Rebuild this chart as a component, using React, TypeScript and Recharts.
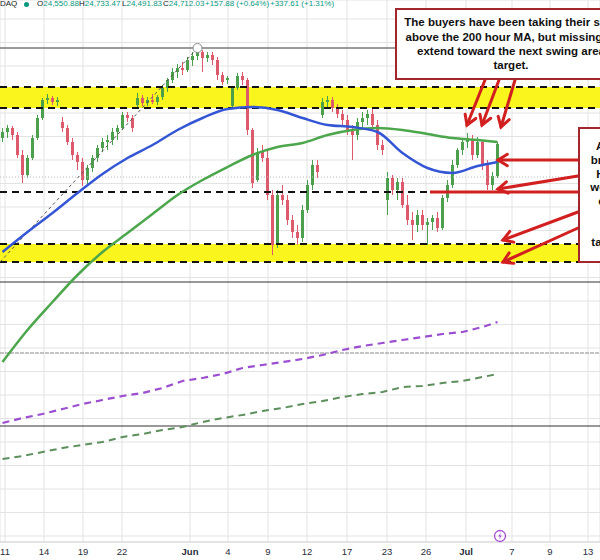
import React from 'react';
import {
  ComposedChart, Bar, Line, XAxis, YAxis, CartesianGrid,
  ReferenceArea, ReferenceLine, ReferenceDot,
} from 'recharts';

// hourly bars, index 0..99 (price in index points)
const opens = [
  24724, 24736, 24744, 24730, 24690, 24650, 24684, 24724, 24764, 24800,
  24804, 24796, 24756, 24744, 24716, 24690, 24676, 24640, 24664, 24684,
  24704, 24716, 24720, 24736, 24744, 24770, 24764, 24790, 24804, 24794,
  24800, 24796, 24806, 24824, 24840, 24856, 24864, 24860, 24880, 24888,
  24896, 24884, 24890, 24880, 24850, 24840, 24788, 24824, 24848, 24840,
  24740, 24640, 24696, 24684, 24610, 24510, 24610, 24600, 24560, 24536,
  24524, 24580, 24630, 24670, 24770, 24796, 24800, 24784, 24772, 24760,
  24740, 24730, 24756, 24764, 24772, 24750, 24710, 24600, 24644, 24620,
  24636, 24590, 24560, 24550, 24570, 24550, 24556, 24564, 24544, 24604,
  24630, 24670, 24700, 24716, 24720, 24690, 24716, 24670, 24630, 24648,
];
const highs = [
  24744, 24750, 24748, 24736, 24700, 24690, 24730, 24770, 24804, 24812,
  24808, 24806, 24766, 24750, 24724, 24696, 24684, 24670, 24690, 24710,
  24724, 24730, 24744, 24750, 24776, 24776, 24770, 24814, 24810, 24806,
  24812, 24810, 24830, 24844, 24864, 24872, 24876, 24886, 24896, 24904,
  24900, 24896, 24896, 24886, 24856, 24848, 24828, 24854, 24856, 24844,
  24744, 24704, 24710, 24700, 24620, 24620, 24630, 24610, 24570, 24550,
  24590, 24640, 24680, 24680, 24804, 24808, 24806, 24792, 24780, 24770,
  24750, 24764, 24776, 24780, 24784, 24760, 24720, 24656, 24650, 24644,
  24644, 24610, 24576, 24580, 24580, 24564, 24570, 24576, 24610, 24640,
  24680, 24704, 24724, 24734, 24730, 24726, 24720, 24680, 24656, 24716,
];
const lows = [
  24716, 24724, 24720, 24684, 24634, 24644, 24680, 24720, 24760, 24792,
  24790, 24788, 24736, 24710, 24680, 24660, 24628, 24632, 24656, 24676,
  24696, 24700, 24710, 24720, 24740, 24756, 24736, 24784, 24788, 24788,
  24792, 24790, 24800, 24816, 24834, 24844, 24850, 24856, 24868, 24880,
  24856, 24876, 24870, 24840, 24830, 24832, 24784, 24820, 24830, 24730,
  24624, 24636, 24676, 24600, 24490, 24504, 24590, 24550, 24524, 24510,
  24516, 24574, 24620, 24644, 24764, 24784, 24776, 24764, 24750, 24730,
  24680, 24720, 24744, 24750, 24740, 24700, 24690, 24570, 24610, 24600,
  24584, 24550, 24520, 24536, 24540, 24510, 24540, 24536, 24540, 24596,
  24624, 24664, 24690, 24704, 24680, 24684, 24660, 24620, 24620, 24644,
];
const closes = [
  24736, 24744, 24730, 24690, 24650, 24684, 24724, 24764, 24800, 24804,
  24796, 24800, 24744, 24716, 24690, 24676, 24640, 24664, 24684, 24704,
  24716, 24720, 24736, 24744, 24770, 24764, 24744, 24804, 24794, 24800,
  24796, 24806, 24824, 24840, 24856, 24864, 24860, 24880, 24888, 24896,
  24884, 24890, 24880, 24850, 24836, 24844, 24824, 24848, 24840, 24740,
  24634, 24696, 24684, 24610, 24510, 24610, 24600, 24560, 24536, 24524,
  24580, 24630, 24670, 24656, 24796, 24800, 24784, 24772, 24760, 24740,
  24730, 24756, 24764, 24772, 24750, 24710, 24700, 24644, 24620, 24636,
  24590, 24560, 24550, 24570, 24550, 24556, 24564, 24544, 24604, 24630,
  24670, 24700, 24716, 24720, 24690, 24716, 24670, 24630, 24648, 24712,
];

// moving averages, read every 5 bars
const maIdx = [0, 5, 10, 15, 20, 25, 30, 35, 40, 45, 50, 55, 60, 65, 70, 75, 80, 85, 90, 95, 99];
const ma100 = [24496, 24536, 24574, 24614, 24652, 24684, 24710, 24740, 24764, 24782, 24786, 24780, 24764, 24750, 24746, 24736, 24694, 24664, 24654, 24668, 24676];
const ma200 = [24276, 24340, 24396, 24450, 24496, 24534, 24572, 24610, 24640, 24666, 24690, 24706, 24714, 24730, 24740, 24744, 24740, 24732, 24724, 24720, 24716];

// lower dashed step lines, read every 4 bars
const stepIdx = [0, 4, 8, 12, 16, 20, 24, 28, 32, 36, 40, 44, 48, 52, 56, 60, 64, 68, 72, 76, 80, 84, 88, 92, 96, 99];
const purpleLine = [24154, 24164, 24172, 24182, 24192, 24200, 24208, 24214, 24224, 24238, 24244, 24252, 24264, 24270, 24276, 24282, 24290, 24300, 24308, 24314, 24320, 24326, 24332, 24336, 24346, 24356];
const greenDashLine = [24082, 24088, 24096, 24104, 24110, 24116, 24126, 24132, 24140, 24146, 24156, 24164, 24170, 24178, 24184, 24192, 24198, 24206, 24212, 24216, 24226, 24228, 24234, 24238, 24246, 24252];

// x axis
const tickPos = [0.5, 8.3, 16.1, 23.9, 37.5, 45.1, 53.1, 60.9, 68.9, 76.9, 84.7, 92.7, 101.9, 109.5, 117.1];
const tickLabels = ['11', '14', '19', '22', 'Jun', '4', '9', '12', '17', '23', '26', 'Jul', '7', '9', '13'];
const priceGrid = [23928, 23975, 24022, 24069, 24116, 24163, 24210, 24257, 24304, 24351, 24398, 24445, 24492, 24539, 24586, 24633, 24680, 24727, 24774, 24821, 24868, 24915, 24962];

// levels
const swingHigh = 24904;
const upperZone = [24784, 24826];
const lowerZone = [24476, 24512];
const midLevel = 24616;
const dottedLevel = 24646;
const paneLines = [24436, 24294, 24148];

const GREEN = '#4c9f4c';
const RED = '#dd5a6c';
const ARROW = '#d21f1f';
const BOXRED = '#a3262c';

const candles = opens.map((o, i) => ({
  i, open: o, high: highs[i], low: lows[i], close: closes[i], range: [lows[i], highs[i]],
}));
const ma100Data = maIdx.map((i, k) => ({ i, v: ma100[k] }));
const ma200Data = maIdx.map((i, k) => ({ i, v: ma200[k] }));
const purpleData = stepIdx.map((i, k) => ({ i, v: purpleLine[k] }));
const greenDashData = stepIdx.map((i, k) => ({ i, v: greenDashLine[k] }));

// arrows: tail -> tip, in bar index / price
const arrows = [
  [96.5, 24840, 92.9, 24750],
  [99.3, 24840, 95.9, 24750],
  [102.5, 24840, 99.7, 24746],
  [115.1, 24680, 99.1, 24680],
  [115.1, 24648, 99.1, 24622],
  [115.1, 24576, 100.1, 24520],
  [115.1, 24544, 100.1, 24476],
];

const Candle = (props: any) => {
  const { x, y, width, height, payload } = props;
  const { open, close, high, low } = payload;
  const span = high - low || 1;
  const toY = (v: number) => y + ((high - v) / span) * height;
  const color = close >= open ? GREEN : RED;
  const cx = x + width / 2;
  const top = toY(Math.max(open, close));
  const bot = toY(Math.min(open, close));
  return (
    <g>
      <line x1={cx} x2={cx} y1={y} y2={y + height} stroke={color} strokeWidth={1} />
      <rect x={x} y={top} width={width} height={Math.max(1, bot - top)} fill={color} />
    </g>
  );
};

const Arrow = (props: any) => {
  const { x1, y1, x2, y2 } = props;
  const a = Math.atan2(y2 - y1, x2 - x1);
  const len = 11;
  const w1 = a + Math.PI - 0.55;
  const w2 = a + Math.PI + 0.55;
  return (
    <g stroke={ARROW} strokeWidth={3} strokeLinecap="round" fill="none">
      <line x1={x1} y1={y1} x2={x2} y2={y2} />
      <polyline
        points={`${x2 + len * Math.cos(w1)},${y2 + len * Math.sin(w1)} ${x2},${y2} ${x2 + len * Math.cos(w2)},${y2 + len * Math.sin(w2)}`}
      />
    </g>
  );
};

const DateTick = (props: any) => {
  const { x, y, payload } = props;
  const label = tickLabels[tickPos.indexOf(payload.value)] ?? '';
  const bold = label === 'Jun' || label === 'Jul';
  return (
    <text x={x} y={y} dy={5} textAnchor="middle" fontSize={9.5}
      fontFamily="'Liberation Sans', Arial, sans-serif" fill="#2a2e39" fontWeight={bold ? 700 : 400}>
      {label}
    </text>
  );
};

const boxText: React.CSSProperties = {
  position: 'absolute', background: '#fff', border: `2px solid ${BOXRED}`,
  fontFamily: "'Liberation Sans', Arial, sans-serif", fontWeight: 700, fontSize: 11.5,
  color: '#111', textAlign: 'center', display: 'flex', flexDirection: 'column',
  justifyContent: 'center', boxSizing: 'border-box', whiteSpace: 'nowrap',
};

const dark = { color: '#131722' };

export default function App() {
  return (
    <div style={{ position: 'relative', width: 600, height: 560, overflow: 'hidden', background: '#fff' }}>
      <style>{'body{margin:0}'}</style>
      <ComposedChart width={600} height={560} data={candles} margin={{ top: 0, right: 0, bottom: 0, left: 0 }}>
        <CartesianGrid stroke="#e3e3e3" />
        <XAxis dataKey="i" type="number" domain={[-0.5, 119.5]} ticks={tickPos} interval={0}
          allowDataOverflow height={18} tickLine={false} axisLine={{ stroke: '#d6d6d6' }} tick={<DateTick />} />
        <YAxis hide type="number" domain={[23916, 25000]} ticks={priceGrid} allowDataOverflow />

        <ReferenceArea y1={upperZone[0]} y2={upperZone[1]} fill="#fbf51e" fillOpacity={1} stroke="none" />
        <ReferenceArea y1={lowerZone[0]} y2={lowerZone[1]} fill="#fbf51e" fillOpacity={1} stroke="none" />
        <ReferenceLine y={upperZone[0]} stroke="#111" strokeWidth={2} strokeDasharray="7 5" />
        <ReferenceLine y={upperZone[1]} stroke="#111" strokeWidth={2} strokeDasharray="7 5" />
        <ReferenceLine y={lowerZone[0]} stroke="#111" strokeWidth={2} strokeDasharray="7 5" />
        <ReferenceLine y={lowerZone[1]} stroke="#111" strokeWidth={2} strokeDasharray="7 5" />
        <ReferenceLine y={midLevel} stroke="#111" strokeWidth={2} strokeDasharray="7 5" />
        <ReferenceLine y={dottedLevel} stroke="#bbb" strokeWidth={1} strokeDasharray="1 2" />
        <ReferenceLine y={swingHigh} stroke="#7a7a7a" strokeWidth={1.3} />
        <ReferenceLine y={paneLines[0]} stroke="#333" strokeWidth={1} />
        <ReferenceLine y={paneLines[1]} stroke="#8a8a8a" strokeWidth={1.2} strokeDasharray="4 1" />
        <ReferenceLine y={paneLines[2]} stroke="#333" strokeWidth={1} />
        <ReferenceLine segment={[{ x: -0.5, y: 24476 }, { x: 39, y: swingHigh }]}
          stroke="#555" strokeWidth={1} strokeDasharray="3 3" />

        <Line data={purpleData} dataKey="v" type="linear" stroke="#9b4fd0" strokeWidth={2.2}
          strokeDasharray="7 5" dot={false} isAnimationActive={false} />
        <Line data={greenDashData} dataKey="v" type="linear" stroke="#5c8f5c" strokeWidth={2}
          strokeDasharray="7 5" dot={false} isAnimationActive={false} />

        <Bar dataKey="range" barSize={3} shape={<Candle />} isAnimationActive={false} />

        <Line data={ma200Data} dataKey="v" type="monotone" stroke="#4ca64c" strokeWidth={2.5}
          dot={false} isAnimationActive={false} />
        <Line data={ma100Data} dataKey="v" type="monotone" stroke="#3556d4" strokeWidth={2.5}
          dot={false} isAnimationActive={false} />

        <ReferenceDot x={39} y={swingHigh} r={4.5} fill="#fff" stroke="#8a8a8a" strokeWidth={1} />
        <ReferenceLine segment={[{ x: 85.5, y: midLevel }, { x: 115.1, y: midLevel }]}
          stroke={ARROW} strokeWidth={3} />
        {arrows.map(([ax, ay, bx, by], k) => (
          <ReferenceLine key={k} segment={[{ x: ax, y: ay }, { x: bx, y: by }]} shape={<Arrow />} />
        ))}
      </ComposedChart>

      <div style={{ position: 'absolute', left: 0, top: -1, width: 340, height: 12, fontFamily: "'Liberation Sans', Arial, sans-serif", fontSize: 8, lineHeight: '10px', color: '#089981', whiteSpace: 'nowrap' }}>
        <span style={{ position: 'absolute', left: 0, ...dark }}>DAQ</span>
        <span style={{ position: 'absolute', left: 24, top: 3, width: 5, height: 5, borderRadius: 3, background: '#089981' }} />
        <span style={{ position: 'absolute', left: 37 }}><span style={dark}>O</span>24,550.88</span>
        <span style={{ position: 'absolute', left: 79 }}><span style={dark}>H</span>24,733.47</span>
        <span style={{ position: 'absolute', left: 122 }}><span style={dark}>L</span>24,491.83</span>
        <span style={{ position: 'absolute', left: 163 }}><span style={dark}>C</span>24,712.03</span>
        <span style={{ position: 'absolute', left: 205 }}>+157.88 (+0.64%)</span>
        <span style={{ position: 'absolute', left: 270 }}>+337.61 (+1.31%)</span>
      </div>

      <div style={{ ...boxText, left: 395, top: 8, width: 232, height: 72, lineHeight: '14.3px' }}>
        <div>The buyers have been taking their shot</div>
        <div>above the 200 hour MA, but missing to</div>
        <div>extend toward the next swing area</div>
        <div>target.</div>
      </div>

      <div style={{ ...boxText, left: 578, top: 127, width: 164, height: 136, lineHeight: '13.7px' }}>
        <div>A move back down into</div>
        <div>break back below the 100</div>
        <div>Hour MA and the swing</div>
        <div>would weaken the buyers</div>
        <div>control, and opens the</div>
        <div>door for a move</div>
        <div>toward the lower</div>
        <div>targets in the yellow box.</div>
      </div>

      <svg style={{ position: 'absolute', left: 493, top: 529 }} width={14} height={14}>
        <circle cx={7} cy={7} r={5.5} fill="none" stroke="#a44fd6" strokeWidth={1.3} />
        <path d="M7.8 3.5 L5.2 7.4 L7 7.4 L6.2 10.5 L8.8 6.6 L7 6.6 Z" fill="#a44fd6" />
      </svg>
    </div>
  );
}
